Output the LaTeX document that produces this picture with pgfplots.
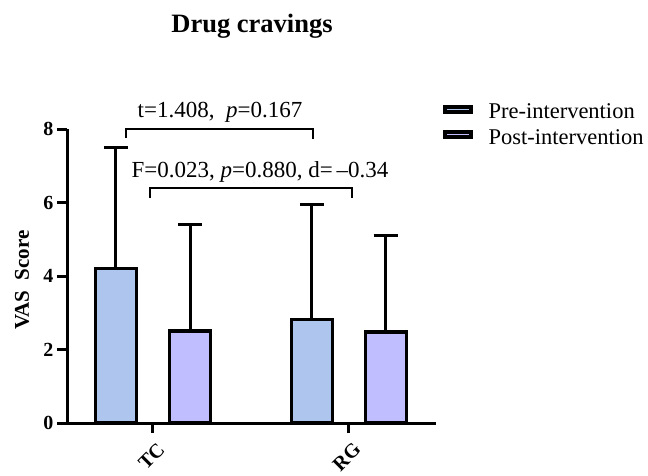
\documentclass[border=0pt]{standalone}
\usepackage{fontspec}
\setmainfont{Liberation Serif}
\usepackage{pgfplots}
\pgfplotsset{compat=1.18}
\definecolor{preC}{RGB}{174,198,238}
\definecolor{postC}{RGB}{192,190,255}
\begin{document}
\begin{tikzpicture}[x=1pt,y=1pt]
\path[use as bounding box] (0,0) rectangle (648,475);
\node[anchor=base, font=\bfseries\fontsize{26.5}{26.5}\selectfont] at (252,442) {Drug cravings};
\begin{axis}[
  at={(67pt,52pt)}, anchor=south west,
  scale only axis, width=369pt, height=294pt,
  xmin=-0.4388, xmax=1.444, ymin=0, ymax=8,
  axis x line*=bottom, axis y line*=left,
  axis line style={line width=3pt, -},
  tick style={line width=3pt, black},
  major tick length=10pt, tick align=outside,
  ytick={0,2,4,6,8}, xtick={0,1}, xticklabels={TC,RG},
  /pgf/number format/assume math mode=true,
  yticklabel style={font=\bfseries\fontsize{20}{20}\selectfont},
  xticklabel style={rotate=45, anchor=north east, yshift=-5pt, font=\bfseries\fontsize{20}{20}\selectfont},
  ylabel={VAS\ \ Score},
  ylabel style={at={(axis description cs:-0.122,0.486)}, anchor=center, font=\bfseries\fontsize{21}{21}\selectfont},
  clip=false,
  legend style={at={(1.009,1.10)}, anchor=north west, draw=none, fill=none,
     font=\fontsize{22.5}{22.5}\selectfont, row sep=5pt},
  legend cell align=left,
]
\addplot[forget plot, ybar, bar width=41pt, bar shift=0pt, fill=preC, draw=black, line width=3.5pt,
  error bars/.cd, y dir=plus, y explicit,
  error bar style={line width=3pt, black},
  error mark options={rotate=90, mark size=12pt, line width=3pt, black}]
  coordinates {(-0.1888,4.2) +- (0,3.3) (0.8112,2.82) +- (0,3.13)};
\addplot[forget plot, ybar, bar width=41pt, bar shift=0pt, fill=postC, draw=black, line width=3.5pt,
  error bars/.cd, y dir=plus, y explicit,
  error bar style={line width=3pt, black},
  error mark options={rotate=90, mark size=12pt, line width=3pt, black}]
  coordinates {(0.1888,2.5) +- (0,2.91) (1.1888,2.47) +- (0,2.63)};
\addlegendimage{legend image code/.code={\draw[line width=4pt, fill=preC, draw=black] (2pt,0pt) rectangle (28pt,5pt); \path[draw=none, fill=none] (0pt,0pt) (44pt,0pt);}}
\addlegendentry{Pre-intervention}
\addlegendimage{legend image code/.code={\draw[line width=4pt, fill=postC, draw=black] (2pt,0pt) rectangle (28pt,5pt); \path[draw=none, fill=none] (0pt,0pt) (44pt,0pt);}}
\addlegendentry{Post-intervention}
\draw[line width=2pt] (axis cs:-0.138,7.76) |- (axis cs:0.816,8) -- (axis cs:0.816,7.74);
\draw[line width=2pt] (axis cs:-0.0153,6.12) |- (axis cs:1.015,6.39) -- (axis cs:1.015,6.12);
\node[anchor=base, font=\fontsize{23}{23}\selectfont] at (axis cs:0.342,8.30) {t=1.408,\ \ \textit{p}=0.167};
\node[anchor=base, font=\fontsize{23}{23}\selectfont] at (axis cs:0.546,6.69) {F=0.023, \textit{p}=0.880, d=\,–0.34};
\end{axis}
\end{tikzpicture}
\end{document}
